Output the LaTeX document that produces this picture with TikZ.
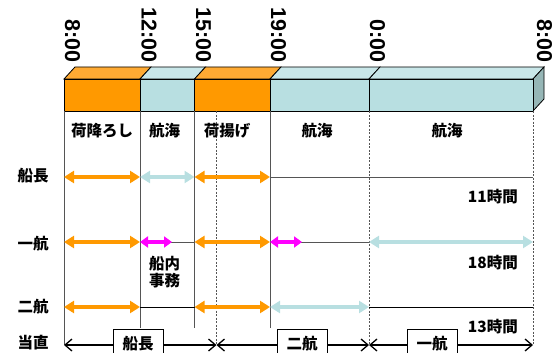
\documentclass[tikz,border=0pt]{standalone}
\usepackage{fontspec}
\setmainfont{Liberation Sans}
\newfontfamily\jp{Noto Sans CJK JP}
\usetikzlibrary{arrows.meta}
\definecolor{org}{HTML}{FF9900}
\definecolor{orgtop}{HTML}{FFAA33}
\definecolor{lblue}{HTML}{B8DFE1}
\definecolor{lbluetop}{HTML}{C9E7E9}
\definecolor{lblueside}{HTML}{96B6B6}
\definecolor{mag}{HTML}{FF00FF}
\definecolor{gridc}{HTML}{555555}
\tikzset{
  tlabel/.style={rotate=-90, anchor=base east, inner sep=0pt, font=\fontsize{21.5}{24}\selectfont\bfseries},
  jtext/.style={inner sep=0pt, font=\jp\fontsize{15.5}{17}\selectfont\bfseries, align=center},
  facefront/.style={draw=black, line width=0.8pt},
  orgarrow/.style={draw=org, line width=3.8pt, {Triangle[length=10pt,width=12pt]}-{Triangle[length=10pt,width=12pt]}},
  bluearrow/.style={draw=lblue, line width=3.8pt, {Triangle[length=10pt,width=12pt]}-{Triangle[length=10pt,width=12pt]}},
  magarrow/.style={draw=mag, line width=3.2pt, {Triangle[length=8pt,width=11pt]}-{Triangle[length=8pt,width=11pt]}},
  vline/.style={draw=gridc, line width=1pt},
  dline/.style={draw=gridc, line width=0.6pt, dash pattern=on 2pt off 1.5pt},
  hline/.style={draw=gridc, line width=1pt},
  watch/.style={draw=black, line width=1.2pt, {Straight Barb[length=7pt,width=12pt,line width=1.3pt]}-{Straight Barb[length=7pt,width=12pt,line width=1.3pt]}},
  watchbox/.style={draw=black, line width=0.9pt, fill=white, minimum width=50pt, minimum height=28pt, anchor=north, inner sep=0pt, font=\jp\fontsize{15.5}{17}\selectfont\bfseries}
}
\begin{document}
\begin{tikzpicture}[x=1pt,y=-1pt]
\useasboundingbox (0,0) rectangle (557,353);
\clip (0,0) rectangle (557,353);
% column coordinates
\coordinate (c0) at (64,111);
\coordinate (c1) at (140,111);
\coordinate (c2) at (194.5,111);
\coordinate (cd) at (216.5,111);
\coordinate (c3) at (270,111);
\coordinate (c4) at (369,111);
\coordinate (c5) at (533,111);
\coordinate (m1) at (172,242);
\coordinate (m2) at (302,242);
% rows
\coordinate (rS) at (0,177);
\coordinate (rI) at (0,242);
\coordinate (rN) at (0,307);
\coordinate (rT) at (0,345);
\coordinate (rB) at (0,328);
% 3D bar: top faces
\fill[orgtop, draw=black, line width=0.8pt] (64,79) -- (75,67) -- (151,67) -- (140,79) -- cycle;
\fill[lbluetop, draw=black, line width=0.8pt] (140,79) -- (151,67) -- (205.5,67) -- (194.5,79) -- cycle;
\fill[orgtop, draw=black, line width=0.8pt] (194.5,79) -- (205.5,67) -- (281,67) -- (270,79) -- cycle;
\fill[lbluetop, draw=black, line width=0.8pt] (270,79) -- (281,67) -- (380,67) -- (369,79) -- cycle;
\fill[lbluetop, draw=black, line width=0.8pt] (369,79) -- (380,67) -- (544,67) -- (533,79) -- cycle;
% right face
\fill[lblueside, draw=black, line width=0.8pt] (533,79) -- (544,67) -- (544,99) -- (533,111) -- cycle;
% front faces
\filldraw[facefront, fill=org] (64,79) rectangle (140,111);
\filldraw[facefront, fill=lblue] (140,79) rectangle (194.5,111);
\filldraw[facefront, fill=org] (194.5,79) rectangle (270,111);
\filldraw[facefront, fill=lblue] (270,79) rectangle (369,111);
\filldraw[facefront, fill=lblue] (369,79) rectangle (533,111);
% time labels
\node[tlabel] (t0) at (65,63) {8:00};
\node[tlabel] (t1) at (141.5,63) {12:00};
\node[tlabel] (t2) at (196,63) {15:00};
\node[tlabel] (t3) at (271,63) {19:00};
\node[tlabel] (t4) at (370,63) {0:00};
\node[tlabel] (t5) at (537,63) {8:00};
% vertical lines
\draw[vline] (c0) -- (c0|-rT);
\draw[vline] (c1) -- (c1|-rB);
\draw[vline] (c2) -- (c2|-rB);
\draw[vline] (c3) -- (c3|-rB);
\draw[dline] (cd) -- (cd|-rT);
\draw[dline] (c4) -- (c4|-rT);
\draw[dline] (c5) -- (c5|-rT);
% column headings
\node[jtext] (h1) at (102,131) {荷降ろし};
\node[jtext] (h2) at (164.5,131) {航海};
\node[jtext] (h3) at (227,131) {荷揚げ};
\node[jtext] (h4) at (317,131) {航海};
\node[jtext] (h5) at (447,131) {航海};
% row labels
\node[jtext] (lS) at (33,176) {船長};
\node[jtext] (lI) at (33,244) {一航};
\node[jtext] (lN) at (33,307) {二航};
\node[jtext] (lT) at (33,343) {当直};
% captain row
\draw[orgarrow] (c0|-rS) -- (c1|-rS);
\draw[bluearrow] (c1|-rS) -- (c2|-rS);
\draw[orgarrow] (c2|-rS) -- (c3|-rS);
\draw[hline] (c3|-rS) -- (c5|-rS);
\node[jtext, anchor=east] (d1) at (518,197) {11時間};
% chief officer row
\draw[hline] (c1|-rI) -- (c2|-rI);
\draw[hline] (c3|-rI) -- (c4|-rI);
\draw[orgarrow] (c0|-rI) -- (c1|-rI);
\draw[magarrow] (c1|-rI) -- (m1);
\draw[orgarrow] (c2|-rI) -- (c3|-rI);
\draw[magarrow] (c3|-rI) -- (m2);
\draw[bluearrow] (c4|-rI) -- (c5|-rI);
\node[jtext] (sj) at (164.5,272) {船内\\事務};
\node[jtext, anchor=east] (d2) at (518,263) {18時間};
% second officer row
\draw[orgarrow] (c0|-rN) -- (c1|-rN);
\draw[hline, draw=black] (c1|-rN) -- (c2|-rN);
\draw[orgarrow] (c2|-rN) -- (c3|-rN);
\draw[bluearrow] (c3|-rN) -- (c4|-rN);
\draw[hline, draw=black] (c4|-rN) -- (c5|-rN);
\node[jtext, anchor=east] (d3) at (518,327) {13時間};
% watch row
\draw[watch] (c0|-rT) -- (cd|-rT);
\draw[watch] (cd|-rT) -- (c4|-rT);
\draw[watch] (c4|-rT) -- (c5|-rT);
\node[watchbox] (w1) at (138,329) {船長};
\node[watchbox] (w2) at (302,329) {二航};
\node[watchbox] (w3) at (432,329) {一航};
\end{tikzpicture}
\end{document}
